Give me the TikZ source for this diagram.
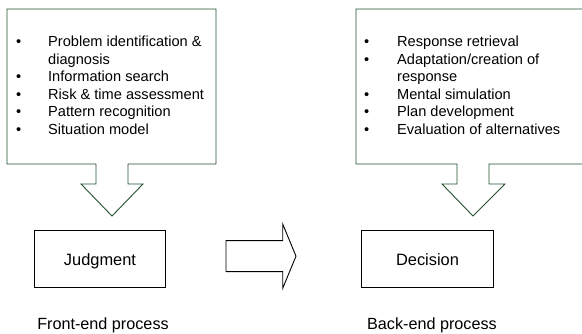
\documentclass[tikz,border=0pt]{standalone}
\usepackage{fontspec}
\setmainfont{Liberation Sans}
\definecolor{callout}{RGB}{36,79,45}
\tikzset{
  calloutline/.style={draw=callout, line width=0.9pt, line join=miter},
  listtext/.style={inner sep=0pt, anchor=base west, font=\fontsize{14.6}{17.5}\selectfont},
  stagebox/.style={draw=black, line width=0.9pt, minimum width=131.4pt, minimum height=57pt,
    inner sep=0pt, text height=11.8pt, text depth=0pt, font=\fontsize{16.4}{19}\selectfont},
  caption/.style={inner sep=0pt, anchor=base, font=\fontsize{16.2}{19}\selectfont},
  bigarrow/.style={draw=black, line width=0.9pt, line join=miter}
}
\begin{document}
\begin{tikzpicture}[x=1pt,y=-1pt]
\useasboundingbox (0,0) rectangle (582,334);
\begin{scope}
\clip (0,0) rectangle (582,334);
% left callout
\draw[calloutline] (7,9) -- (216,9) -- (216,164) -- (128,164) -- (128,184) -- (143,184)
  -- (112,216) -- (81,184) -- (96,184) -- (96,164) -- (7,164) -- cycle;
% right callout (runs past the right edge)
\draw[calloutline] (596,9) -- (356,9) -- (356,164) -- (457,164) -- (457,184) -- (442,184)
  -- (473,216) -- (505,184) -- (489,184) -- (489,164) -- (596,164);
\end{scope}
% lists
\node[listtext] (jlist) at (16,47) {\begin{tabular}[t]{@{}p{32pt}@{}l@{}}
\textbullet & Problem identification \&\\
 & diagnosis\\
\textbullet & Information search\\
\textbullet & Risk \& time assessment\\
\textbullet & Pattern recognition\\
\textbullet & Situation model
\end{tabular}};
\node[listtext] (dlist) at (364,47) {\begin{tabular}[t]{@{}p{33pt}@{}l@{}}
\textbullet & Response retrieval\\
\textbullet & Adaptation/creation of\\
 & response\\
\textbullet & Mental simulation\\
\textbullet & Plan development\\
\textbullet & Evaluation of alternatives
\end{tabular}};
% stage boxes
\node[stagebox] (judg) at (100,259.2) {Judgment};
\node[stagebox] (dec) at (427.5,259.2) {Decision};
% big arrow between
\draw[bigarrow] (226,240.7) -- (282.7,240.7) -- (282.7,224) -- (296,256.2) -- (282.7,288.3)
  -- (282.7,271.7) -- (226,271.7) -- cycle;
% captions
\node[caption] (fe) at (103,329.3) {Front-end process};
\node[caption] (be) at (432,329.3) {Back-end process};
\end{tikzpicture}
\end{document}
